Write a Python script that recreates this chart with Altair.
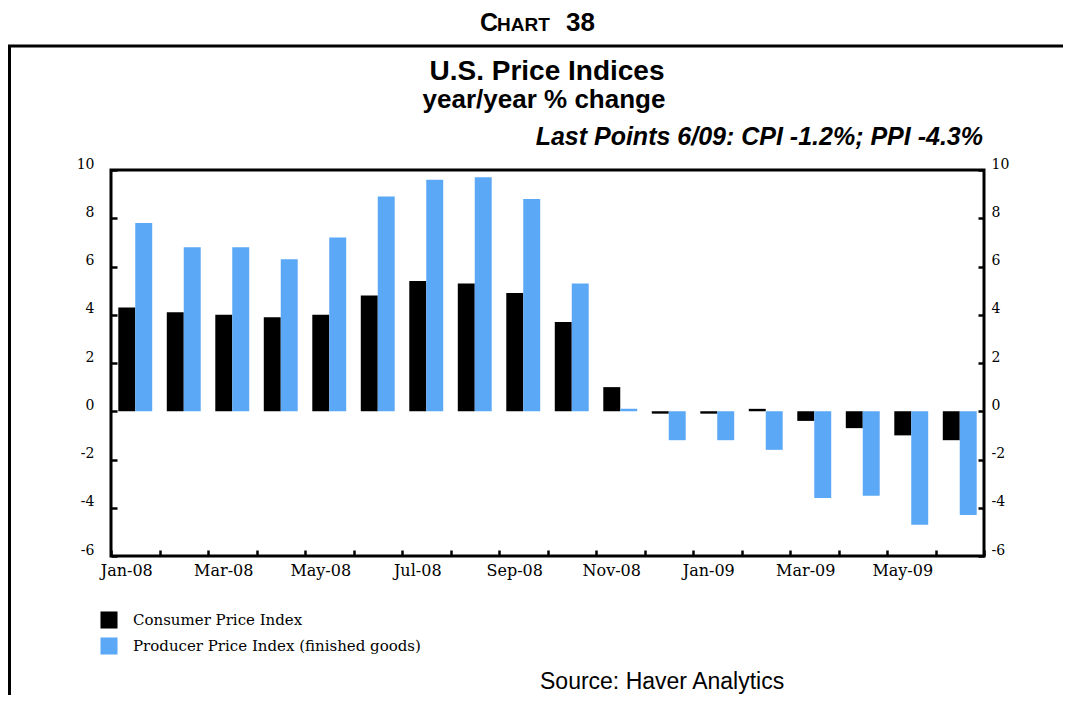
import altair as alt
import pandas as pd

months = ["Jan-08", "Feb-08", "Mar-08", "Apr-08", "May-08", "Jun-08",
          "Jul-08", "Aug-08", "Sep-08", "Oct-08", "Nov-08", "Dec-08",
          "Jan-09", "Feb-09", "Mar-09", "Apr-09", "May-09", "Jun-09"]
cpi = [4.3, 4.1, 4.0, 3.9, 4.0, 4.8, 5.4, 5.3, 4.9, 3.7, 1.0, -0.1,
       -0.1, 0.1, -0.4, -0.7, -1.0, -1.2]
ppi = [7.8, 6.8, 6.8, 6.3, 7.2, 8.9, 9.6, 9.7, 8.8, 5.3, 0.1, -1.2,
       -1.2, -1.6, -3.6, -3.5, -4.7, -4.3]
series_names = ["Consumer Price Index", "Producer Price Index (finished goods)"]
series_colors = ["#000000", "#5BA8F6"]
y_ticks = [-6, -4, -2, 0, 2, 4, 6, 8, 10]
shown_labels = months[::2]

rows = []
for i, m in enumerate(months):
    rows.append({"month": m, "series": series_names[0], "value": cpi[i]})
    rows.append({"month": m, "series": series_names[1], "value": ppi[i]})
df = pd.DataFrame(rows)

label_list = ",".join("'%s'" % s for s in shown_labels)
label_expr = "indexof([%s], datum.value) >= 0 ? datum.value : ''" % label_list

serif = "DejaVu Serif"
sans = "Liberation Sans"

x_enc = alt.X("month:N", sort=months,
              scale=alt.Scale(paddingInner=0, paddingOuter=0),
              axis=alt.Axis(title=None, labelExpr=label_expr, labelAngle=0,
                            tickBand="extent", offset=-6, tickSize=6, tickWidth=2.5,
                            tickColor="black", domain=False, grid=False,
                            labelFont=serif, labelFontSize=16, labelColor="black",
                            labelPadding=6, labelOffset=-9))

y_scale = alt.Scale(domain=[-6, 10], nice=False, zero=False)


def y_axis(orient, pad):
    return alt.Axis(title=None, orient=orient, values=y_ticks, offset=-6,
                    tickSize=6, tickWidth=2.5, tickColor="black", domain=False,
                    grid=False, labelFont=serif, labelFontSize=14,
                    labelColor="black", labelPadding=pad, labelOffset=-6,
                    labelExpr="'' + datum.value")


bars = alt.Chart(df).mark_bar().encode(
    x=x_enc,
    xOffset=alt.XOffset("series:N", sort=series_names,
                        scale=alt.Scale(paddingOuter=0.43, paddingInner=0)),
    y=alt.Y("value:Q", scale=y_scale, axis=y_axis("left", 17)),
    color=alt.Color("series:N", sort=series_names,
                    scale=alt.Scale(domain=series_names, range=series_colors),
                    legend=alt.Legend(orient="none", legendX=-11, legendY=441,
                                      title=None, symbolType="square",
                                      symbolSize=290, symbolStrokeWidth=0,
                                      symbolOpacity=1, labelFont=serif,
                                      labelFontSize=15, labelColor="black",
                                      labelLimit=0,
                                      rowPadding=8, labelOffset=15,
                                      direction="vertical", padding=0)),
)

right_axis = alt.Chart(df).mark_point(opacity=0).encode(
    y=alt.Y("value:Q", scale=y_scale, axis=y_axis("right", 7)),
)


def text_layer(txt, x, y, size, weight="normal", style="normal", align="center",
               font=sans):
    return alt.Chart(pd.DataFrame({"t": [txt]})).mark_text(
        font=font, fontSize=size, fontWeight=weight, fontStyle=style,
        align=align, baseline="alphabetic", color="black"
    ).encode(text="t:N", x=alt.value(x), y=alt.value(y))


texts = [
    text_layer("C", 369, -139, 25, weight="bold", align="left"),
    text_layer("HART", 386, -139, 19, weight="bold", align="left"),
    text_layer("38", 455, -139, 26, weight="bold", align="left"),
    text_layer("U.S. Price Indices", 436, -90, 28, weight="bold"),
    text_layer("year/year % change", 433, -62, 26, weight="bold"),
    text_layer("Last Points 6/09: CPI -1.2%; PPI -4.3%", 872, -25, 25,
               weight="bold", style="italic", align="right"),
    text_layer("Source: Haver Analytics", 429, 519, 23, align="left"),
]

one = pd.DataFrame({"a": [0]})
top_line = alt.Chart(one).mark_rule(color="black", strokeWidth=3).encode(
    x=alt.value(-103), x2=alt.value(952), y=alt.value(-124))
left_line = alt.Chart(one).mark_rule(color="black", strokeWidth=3).encode(
    x=alt.value(-101.5), y=alt.value(-124), y2=alt.value(525))

chart = alt.layer(bars, right_axis, top_line, left_line, *texts).resolve_axis(
    y="independent"
).properties(
    width=873, height=386,
    padding={"left": 103, "top": 162, "right": 79, "bottom": 139},
    autosize=alt.AutoSizeParams(type="none"),
    background="white",
).configure_view(stroke="black", strokeWidth=3)

chart.save("out.html", embed_options={"renderer": "svg", "actions": False})
